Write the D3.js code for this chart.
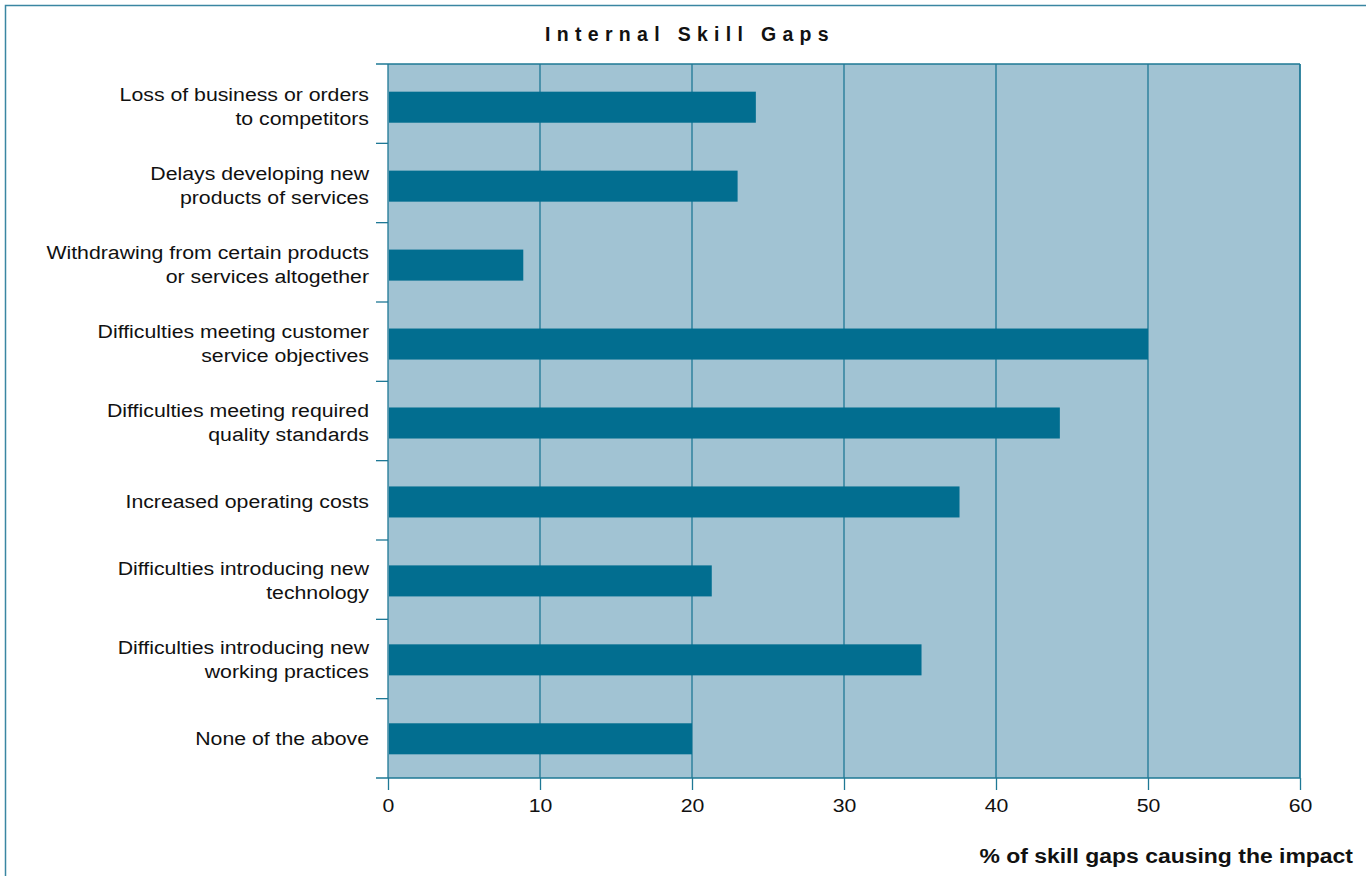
<!DOCTYPE html>
<html lang="en">
<head>
<meta charset="UTF-8">
<title>Internal Skill Gaps</title>
<style>
  body { margin: 0; background: #fff; }
  svg { display: block; font-family: "Liberation Sans", Arial, sans-serif; }
  .tick text { font-size: 19px; font-family: "Liberation Sans", Arial, sans-serif; }
</style>
</head>
<body>
<script src="https://cdn.jsdelivr.net/npm/d3@7"></script>
<script>
// categories, top to bottom
const categories = [
  ["Loss of business or orders", "to competitors"],
  ["Delays developing new", "products of services"],
  ["Withdrawing from certain products", "or services altogether"],
  ["Difficulties meeting customer", "service objectives"],
  ["Difficulties meeting required", "quality standards"],
  ["Increased operating costs"],
  ["Difficulties introducing new", "technology"],
  ["Difficulties introducing new", "working practices"],
  ["None of the above"]
];
const values = [24.2, 23.0, 8.9, 50.0, 44.2, 37.6, 21.3, 35.1, 20.0];
const xTicks = [0, 10, 20, 30, 40, 50, 60];

const W = 1366, H = 876;
const margin = { left: 388, right: 66, top: 64, bottom: 98 };
const lineCol = "#1e7895";
const sx = 1.12; // étirement horizontal des textes

const svg = d3.select("body").append("svg")
  .attr("width", W).attr("height", H);

// cadre extérieur
svg.append("rect")
  .attr("x", 5.5).attr("y", 5.5)
  .attr("width", W).attr("height", H)
  .attr("fill", "none").attr("stroke", "#3a86a2").attr("stroke-width", 1.5);

const x = d3.scaleLinear().domain([0, 60]).range([margin.left, W - margin.right]);

// échelle des catégories (frontières, ticks)
const yBand = d3.scaleBand()
  .domain(d3.range(categories.length))
  .range([margin.top, H - margin.bottom]);

// échelle pour les barres
const y = d3.scaleBand()
  .domain(d3.range(categories.length))
  .range([margin.top + 4, H - margin.bottom])
  .paddingInner(0.607).paddingOuter(0.3);

// fond du graphe
svg.append("rect")
  .attr("x", x(0)).attr("y", margin.top)
  .attr("width", x(60) - x(0)).attr("height", H - margin.bottom - margin.top)
  .attr("fill", "#a1c3d3");

// lignes de grille verticales
svg.append("g").selectAll("line")
  .data(xTicks.slice(1))
  .join("line")
  .attr("x1", d => x(d)).attr("x2", d => x(d))
  .attr("y1", margin.top).attr("y2", H - margin.bottom)
  .attr("stroke", lineCol).attr("stroke-width", 1.3);

// barres
svg.append("g").selectAll("rect")
  .data(values)
  .join("rect")
  .attr("x", x(0) + 1)
  .attr("y", (d, i) => y(i))
  .attr("width", d => x(d) - x(0) - 1)
  .attr("height", y.bandwidth())
  .attr("fill", "#026e90");

// axe du bas
const xAxis = d3.axisBottom(x).tickValues(xTicks).tickSize(12).tickPadding(9).tickSizeOuter(0);
const gx = svg.append("g")
  .attr("transform", `translate(0,${H - margin.bottom})`)
  .attr("font-size", 19)
  .call(xAxis);
gx.select(".domain").remove();
gx.selectAll(".tick line").attr("stroke", lineCol).attr("stroke-width", 1.3);
gx.selectAll(".tick text")
  .attr("fill", "#111")
  .attr("transform", `scale(${sx},1)`);

// lignes horizontales haut et bas
[margin.top, H - margin.bottom].forEach(yy => {
  svg.append("line")
    .attr("x1", margin.left - 12).attr("x2", x(60))
    .attr("y1", yy).attr("y2", yy)
    .attr("stroke", lineCol).attr("stroke-width", 1.3);
});

// ligne gauche et droite
[x(0), x(60)].forEach(xx => {
  svg.append("line")
    .attr("x1", xx).attr("x2", xx)
    .attr("y1", margin.top).attr("y2", H - margin.bottom)
    .attr("stroke", lineCol).attr("stroke-width", 1.3);
});

// ticks de l'axe y aux frontières des catégories
svg.append("g").selectAll("line")
  .data(d3.range(1, categories.length))
  .join("line")
  .attr("x1", margin.left - 12).attr("x2", margin.left)
  .attr("y1", i => yBand(i)).attr("y2", i => yBand(i))
  .attr("stroke", lineCol).attr("stroke-width", 1.3);

// étiquettes des catégories
const labels = svg.append("g").selectAll("text")
  .data(categories)
  .join("text")
  .attr("text-anchor", "end")
  .attr("font-size", 19)
  .attr("fill", "#111")
  .attr("transform", (d, i) => `translate(369,${y(i) + y.bandwidth() / 2}) scale(${sx},1)`);

labels.selectAll("tspan")
  .data(d => d.map((t, k) => ({ t, k, n: d.length })))
  .join("tspan")
  .attr("x", 0)
  .attr("y", d => (d.k - (d.n - 1) / 2) * 24.5 + 6)
  .text(d => d.t);

// titre
svg.append("text")
  .attr("x", 690).attr("y", 41)
  .attr("text-anchor", "middle")
  .attr("font-size", 19.5).attr("font-weight", "bold")
  .attr("letter-spacing", 6.3)
  .attr("fill", "#111")
  .text("Internal Skill Gaps");

// titre de l'axe x
svg.append("text")
  .attr("transform", `translate(1353,863) scale(${sx},1)`)
  .attr("text-anchor", "end")
  .attr("font-size", 20.5).attr("font-weight", "bold")
  .attr("fill", "#111")
  .text("% of skill gaps causing the impact");
</script>
</body>
</html>
